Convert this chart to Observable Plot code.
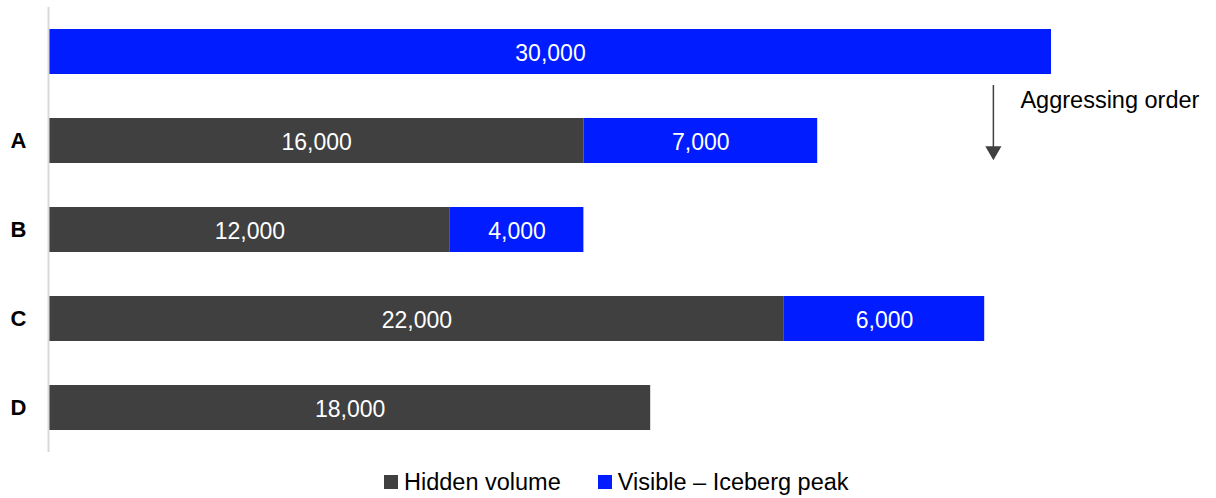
<!DOCTYPE html>
<html>
<head>
<meta charset="utf-8">
<script src="https://cdn.jsdelivr.net/npm/d3@7"></script>
<script src="https://cdn.jsdelivr.net/npm/@observablehq/plot@0.6"></script>
<style>
  body { margin: 0; background: #fff; font-family: "Liberation Sans", Arial, sans-serif; }
  #wrap { position: relative; width: 1216px; height: 498px; }
  #legend { position: absolute; left: 384px; top: 464px; height: 36px; display: flex; align-items: center; font-size: 23.5px; color: #000; white-space: nowrap; }
  .sw { width: 14px; height: 14px; display: inline-block; margin-right: 6px; }
  .item { display: flex; align-items: center; margin-right: 37px; }
</style>
</head>
<body>
<div id="wrap">
  <div id="chart"></div>
  <div id="legend"></div>
</div>
<script>
const categories = ["", "A", "B", "C", "D"];
const hidden = [0, 16000, 12000, 22000, 18000];
const visible = [30000, 7000, 4000, 6000, 0];
const seriesNames = ["Hidden volume", "Visible – Iceberg peak"];
const seriesColors = ["#404040", "#001cff"];
const annotation = "Aggressing order";
const arrowX = 28260;
const annotationX = 29070;

const rows = [];
categories.forEach((c, i) => {
  if (hidden[i] > 0) rows.push({cat: c, series: seriesNames[0], value: hidden[i]});
  if (visible[i] > 0) rows.push({cat: c, series: seriesNames[1], value: visible[i]});
});
const fmt = d3.format(",");

const chart = Plot.plot({
  width: 1216,
  height: 462,
  marginLeft: 49,
  marginRight: 165,
  marginTop: 7,
  marginBottom: 10,
  style: {fontFamily: "'Liberation Sans', Arial, sans-serif", background: "#fff"},
  x: {domain: [0, 30000], axis: null},
  y: {domain: categories, paddingInner: 0.5, paddingOuter: 0.25, label: null},
  color: {domain: seriesNames, range: seriesColors},
  marks: [
    Plot.axisY({tickSize: 0, tickPadding: 23, fontSize: 22, fontWeight: "bold", fill: "#000", label: null}),
    Plot.barX(rows, Plot.stackX({x: "value", y: "cat", fill: "series", order: seriesNames})),
    Plot.text(rows, Plot.stackX({x: "value", y: "cat", z: "series", order: seriesNames, text: d => fmt(d.value), fill: "white", fontSize: 23, dy: 1.5})),
    Plot.ruleX([0], {stroke: "#d9d9d9", strokeWidth: 2, dx: -1}),
    Plot.ruleX([arrowX], {stroke: "#404040", strokeWidth: 1.5, insetTop: 78, insetBottom: 304}),
    Plot.dot([arrowX], {x: d => d, y: () => "A", symbol: "triangle", r: 6, rotate: 180, fill: "#404040", stroke: "none", dy: 10}),
    Plot.text([annotation], {x: () => annotationX, y: () => "A", text: d => d, textAnchor: "start", fontSize: 23.5, fill: "#000", dy: -41})
  ]
});
document.getElementById("chart").appendChild(chart);

const legend = document.getElementById("legend");
seriesNames.forEach((n, i) => {
  const it = document.createElement("div");
  it.className = "item";
  const sw = document.createElement("span");
  sw.className = "sw";
  sw.style.background = seriesColors[i];
  it.appendChild(sw);
  it.appendChild(document.createTextNode(n));
  legend.appendChild(it);
});
</script>
</body>
</html>
